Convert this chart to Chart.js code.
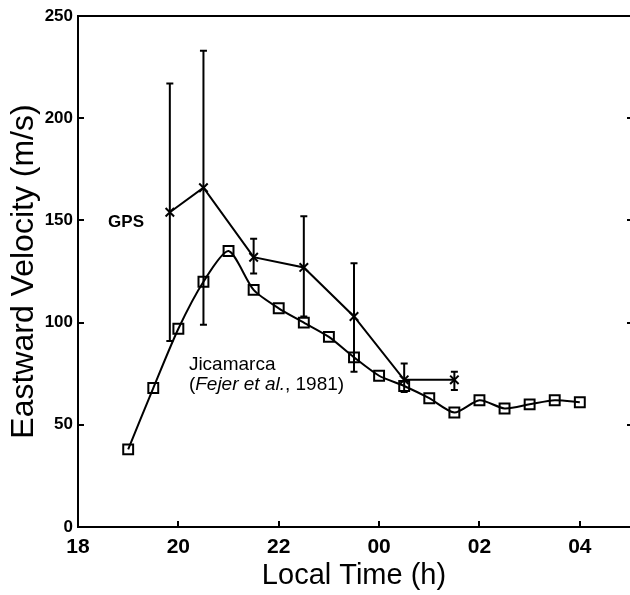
<!DOCTYPE html>
<html>
<head>
<meta charset="utf-8">
<script src="https://cdn.jsdelivr.net/npm/chart.js@4"></script>
<style>
html,body{margin:0;padding:0;background:#fff;}
#wrap{width:630px;height:595px;position:relative;}
</style>
</head>
<body>
<div id="wrap"><canvas id="c" width="630" height="595"></canvas></div>
<script>
// Local time in hours (values above 24 are after midnight)
const jicaTimes = [19, 19.5, 20, 20.5, 21, 21.5, 22, 22.5, 23, 23.5, 24, 24.5, 25, 25.5, 26, 26.5, 27, 27.5, 28];
const jicaVel   = [38, 68, 97, 120, 135, 116, 107, 100, 93, 83, 74, 69, 63, 56, 62, 58, 60, 62, 61];

const gpsTimes = [19.83, 20.5, 21.5, 22.5, 23.5, 24.5, 25.5];
const gpsVel   = [154, 166, 132, 127, 103, 72, 72];
const gpsLow   = [91, 99, 124, 103, 76, 66, 67];
const gpsHigh  = [217, 233, 141, 152, 129, 80, 76];

const xTicks = [18, 20, 22, 24, 26, 28];
const yTicks = [0, 50, 100, 150, 200, 250];

const xTitle = 'Local Time (h)';
const yTitle = 'Eastward Velocity (m/s)';

const FONT = '"Liberation Sans", Arial, Helvetica, sans-serif';

function toPts(xs, ys){ return xs.map((x,i)=>({x:x, y:ys[i]})); }

const frame = {
  id:'frame',
  afterDraw(chart){
    const {ctx, chartArea:a, scales:{x, y}} = chart;
    ctx.save();
    ctx.strokeStyle = '#000';
    ctx.lineWidth = 2;
    ctx.beginPath();
    ctx.moveTo(a.left, a.top); ctx.lineTo(a.right, a.top);
    ctx.moveTo(a.left, a.top-1); ctx.lineTo(a.left, a.bottom);
    ctx.moveTo(a.left-1, a.bottom); ctx.lineTo(a.right, a.bottom);
    ctx.stroke();
    ctx.beginPath();
    xTicks.forEach(v=>{ const px = Math.round(x.getPixelForValue(v)); if(v!==18){ ctx.moveTo(px, a.bottom); ctx.lineTo(px, a.bottom-6);} });
    yTicks.forEach(v=>{ const py = Math.round(y.getPixelForValue(v)); if(v!==0 && v!==250){ ctx.moveTo(a.left, py); ctx.lineTo(a.left+6, py); ctx.moveTo(a.right, py); ctx.lineTo(a.right-3, py);} });
    ctx.stroke();
    ctx.restore();
  }
};

const errBars = {
  id:'errBars',
  afterDatasetsDraw(chart){
    const {ctx, scales:{x, y}} = chart;
    ctx.save();
    ctx.strokeStyle = '#000';
    ctx.lineWidth = 2;
    gpsTimes.forEach((t,i)=>{
      const px = x.getPixelForValue(t);
      const lo = y.getPixelForValue(gpsLow[i]);
      const hi = y.getPixelForValue(gpsHigh[i]);
      ctx.beginPath();
      ctx.moveTo(px, lo); ctx.lineTo(px, hi);
      ctx.moveTo(px-3.5, lo); ctx.lineTo(px+3.5, lo);
      ctx.moveTo(px-3.5, hi); ctx.lineTo(px+3.5, hi);
      ctx.stroke();
    });
    ctx.restore();
  }
};

const labels = {
  id:'labels',
  afterDraw(chart){
    const {ctx, scales:{x, y}} = chart;
    ctx.save();
    ctx.fillStyle = '#000';
    ctx.textBaseline = 'middle';
    ctx.textAlign = 'left';
    ctx.font = 'bold 17px ' + FONT;
    ctx.fillText('GPS', x.getPixelForValue(18.6), y.getPixelForValue(149.2));
    ctx.font = '19px ' + FONT;
    const lx = x.getPixelForValue(20.21);
    ctx.fillText('Jicamarca', lx, y.getPixelForValue(79.5));
    const ly = y.getPixelForValue(69.5);
    let cx = lx;
    ctx.font = '19px ' + FONT;
    ctx.fillText('(', cx, ly); cx += ctx.measureText('(').width;
    ctx.font = 'italic 19px ' + FONT;
    ctx.fillText('Fejer et al.', cx, ly); cx += ctx.measureText('Fejer et al.').width;
    ctx.font = '19px ' + FONT;
    ctx.fillText(', 1981)', cx, ly);
    ctx.restore();
  }
};

new Chart(document.getElementById('c'), {
  type:'line',
  data:{
    datasets:[
      {
        label:'Jicamarca',
        data: toPts(jicaTimes, jicaVel),
        borderColor:'#000', borderWidth:2,
        pointStyle:'rect', pointRadius:7, pointBorderWidth:2,
        pointBackgroundColor:'rgba(255,255,255,0)', pointBorderColor:'#000',
        tension:0.25, fill:false
      },
      {
        label:'GPS',
        data: toPts(gpsTimes, gpsVel),
        borderColor:'#000', borderWidth:2,
        pointStyle:'crossRot', pointRadius:6, pointBorderWidth:2,
        pointBorderColor:'#000',
        tension:0, fill:false
      }
    ]
  },
  options:{
    responsive:false,
    animation:false,
    layout:{autoPadding:false, padding:{top:16, right:0, left:0, bottom:0}},
    plugins:{legend:{display:false}, tooltip:{enabled:false}},
    scales:{
      x:{
        type:'linear', min:18, max:29,
        afterBuildTicks(s){ s.ticks = xTicks.map(v=>({value:v})); },
        afterFit(s){ s.height = 68; s.paddingLeft = 0; s.paddingRight = 0; },
        grid:{display:false, drawTicks:false},
        border:{display:false},
        ticks:{
          autoSkip:false, maxRotation:0, padding:8, color:'#000',
          font:{family:FONT, size:21, weight:'bold'},
          callback:(v)=>String(v % 24).padStart(2,'0')
        },
        title:{display:true, text:xTitle, color:'#000', font:{family:FONT, size:29}, padding:{top:0, bottom:2}}
      },
      y:{
        min:0, max:250,
        afterBuildTicks(s){ s.ticks = yTicks.map(v=>({value:v})); },
        afterFit(s){ s.width = 78; s.paddingTop = 0; s.paddingBottom = 0; },
        grid:{display:false, drawTicks:false},
        border:{display:false},
        ticks:{
          autoSkip:false, padding:5, color:'#000',
          font:{family:FONT, size:17, weight:'bold'}
        },
        title:{display:true, text:yTitle, color:'#000', font:{family:FONT, size:32}, padding:{top:5, bottom:0}}
      }
    }
  },
  plugins:[frame, errBars, labels]
});
</script>
</body>
</html>
